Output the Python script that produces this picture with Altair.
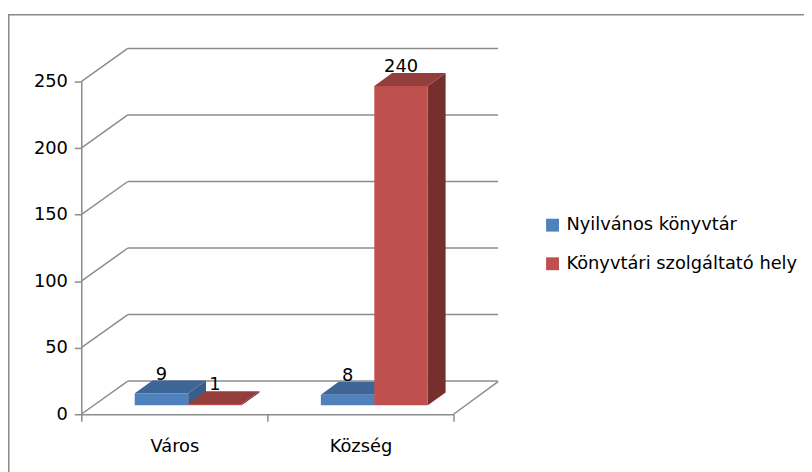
import altair as alt
import pandas as pd

# ---- data -------------------------------------------------------------
categories = ["Város", "Község"]
series = ["Nyilvános könyvtár", "Könyvtári szolgáltató hely"]
nyilvanos = [9, 8]
szolgaltato = [1, 240]
y_ticks = [0, 50, 100, 150, 200, 250]

rows = []
for i, c in enumerate(categories):
    rows.append({"kat": c, "sorozat": series[0], "ertek": nyilvanos[i]})
    rows.append({"kat": c, "sorozat": series[1], "ertek": szolgaltato[i]})
df = pd.DataFrame(rows)
ticks_df = pd.DataFrame({"v": y_ticks})
one_df = pd.DataFrame({"a": [0]})

# ---- style ------------------------------------------------------------
W, H = 376, 336
YMAX = 250
K = H / YMAX
FONT = "DejaVu Sans"
GRID = "#8c8c8c"
front_colors = ["#4f81bd", "#c0504d"]
top_colors = ["#3d6696", "#943e3b"]
side_colors = ["#385d8a", "#772f2d"]
BY = -9               # bar plane vertical shift
DX, DY = 47, -33.5    # back wall shift

xaxis = alt.Axis(title=None, grid=False, tickBand="extent", labelAngle=0,
                 tickSize=7, tickWidth=1.5, tickColor=GRID,
                 domainColor=GRID, domainWidth=1.5, labelPadding=17,
                 labelFont=FONT, labelFontSize=18, labelColor="#000000")
yaxis = alt.Axis(title=None, grid=False, values=y_ticks,
                 tickSize=7, tickWidth=1.5, tickColor=GRID,
                 domainColor=GRID, domainWidth=1.5, labelPadding=7,
                 labelFont=FONT, labelFontSize=18, labelColor="#000000")

xsc = alt.Scale(domain=categories, paddingInner=0, paddingOuter=0)
osc = alt.Scale(domain=series, paddingInner=0, paddingOuter=0.7407, align=0.675)
ysc = alt.Scale(domain=[0, YMAX], nice=False, zero=True)

def xe():
    return alt.X("kat:N", sort=categories, scale=xsc, axis=xaxis)

def oe():
    return alt.XOffset("sorozat:N", sort=series, scale=osc)

def ye():
    return alt.Y("ertek:Q", scale=ysc, axis=yaxis)

base = alt.Chart(df)

# ---- decorations (walls, floor, frame) -----------------------------------
back_grid = alt.Chart(ticks_df).mark_rule(color=GRID, strokeWidth=1.5, yOffset=DY).encode(
    x=alt.value(DX), x2=alt.value(W + 45),
    y=alt.Y("v:Q", scale=ysc, axis=yaxis))
side_grid = alt.Chart(ticks_df).mark_rule(color=GRID, strokeWidth=1.5, y2Offset=DY).encode(
    x=alt.value(0), x2=alt.value(DX),
    y=alt.Y("v:Q", scale=ysc, axis=yaxis), y2="v:Q")
floor_edge = alt.Chart(one_df).mark_rule(color=GRID, strokeWidth=1.5, y2Offset=-33).encode(
    x=alt.value(W), x2=alt.value(W + 45),
    y=alt.Y(datum=0, scale=ysc, axis=yaxis), y2=alt.Y2(datum=0))
frame_top = alt.Chart(one_df).mark_rule(color="#888888", strokeWidth=1.5).encode(
    x=alt.value(-74), x2=alt.value(740), y=alt.value(-67.5))
frame_left = alt.Chart(one_df).mark_rule(color="#888888", strokeWidth=1.5).encode(
    x=alt.value(-73.2), y=alt.value(-68), y2=alt.value(400))

# ---- 3D bars ---------------------------------------------------------------
side_expr = ("'M27,0L45,-13L45,' + (datum.ertek*%f - 13) + 'L27,' + (datum.ertek*%f) + 'Z'"
             % (K, K))

bar_layers = []
for s, fc, tc, sc in zip(series, front_colors, top_colors, side_colors):
    sub = base.transform_filter(alt.datum.sorozat == s)
    side = sub.transform_calculate(path=side_expr).mark_point(
        filled=True, size=4, opacity=1, strokeWidth=0, yOffset=BY
    ).encode(x=xe(), xOffset=oe(), y=ye(),
             shape=alt.Shape("path:N", scale=None), fill=alt.value(sc))
    top = sub.mark_point(
        filled=True, size=4, opacity=1, strokeWidth=0, yOffset=BY
    ).encode(x=xe(), xOffset=oe(), y=ye(),
             shape=alt.value("M-27,0L27,0L45,-13L-9,-13Z"), fill=alt.value(tc))
    front = sub.mark_bar(
        yOffset=BY, y2Offset=BY, strokeWidth=0
    ).encode(x=xe(), xOffset=oe(), y=ye(),
             color=alt.Color("sorozat:N",
                             scale=alt.Scale(domain=series, range=front_colors),
                             legend=alt.Legend(title=None, orient="none",
                                               legendX=467, legendY=136,
                                               symbolType="square", symbolSize=169,
                                               symbolStrokeWidth=0,
                                               labelFont=FONT, labelFontSize=18,
                                               labelColor="#000000", labelOffset=5,
                                               labelLimit=400,
                                               rowPadding=21, padding=0)))
    bar_layers += [side, top, front]

labels = base.mark_text(baseline="alphabetic", dy=-14, yOffset=BY,
                        font=FONT, fontSize=18, color="#000000").encode(
    x=xe(), xOffset=oe(), y=ye(), text="ertek:Q")

chart = alt.layer(
    frame_top, frame_left, back_grid, side_grid, floor_edge,
    *bar_layers, labels
).properties(
    width=W, height=H,
    padding={"left": 74, "top": 72, "right": 354, "bottom": 56},
    autosize=alt.AutoSizeParams(type="none"),
).configure_view(stroke="transparent")

chart.save("out.html", embed_options={"renderer": "svg", "actions": False})
